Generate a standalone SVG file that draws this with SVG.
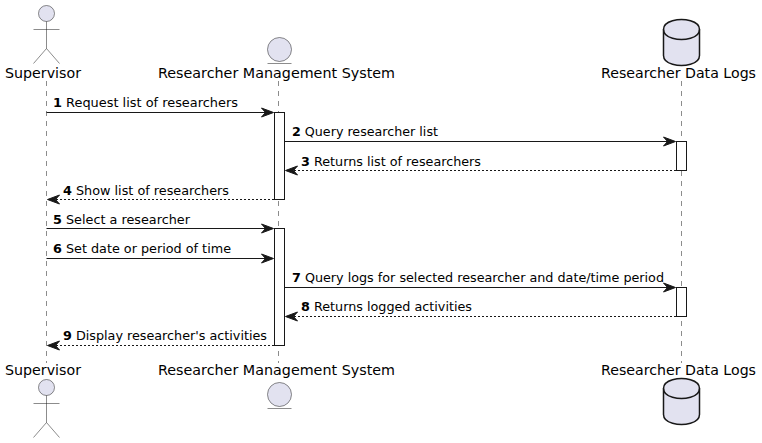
<svg xmlns="http://www.w3.org/2000/svg" width="762" height="443" viewBox="0 0 762 443">
<style>
text{font-family:"DejaVu Sans",sans-serif;fill:#000;lengthAdjust:spacingAndGlyphs}
.p{font-size:14px}
.m{font-size:13px}
.n{font-weight:bold}
.life{stroke:#181818;stroke-width:.5;stroke-dasharray:5,5;fill:none}
.act{fill:#fff;stroke:#181818;stroke-width:1}
.shape{fill:#E2E2F0;stroke:#181818;stroke-width:.5}
.db{fill:#E2E2F0;stroke:#181818;stroke-width:1.5}
.line{stroke:#181818;stroke-width:1;fill:none}
.dash{stroke:#181818;stroke-width:1;stroke-dasharray:2,2;fill:none}
.head{fill:#181818;stroke:#181818;stroke-width:1}
</style>
<defs>
<g id="actor"><circle class="shape" cx="46.5" cy="13.5" r="8"/><path class="shape" style="fill:none" d="M46.5 21.5V48.5M33.5 29.5H59.5M46.5 48.5L33.5 63.5M46.5 48.5L59.5 63.5"/></g>
<g id="entity"><circle class="shape" cx="279.5" cy="49.5" r="12"/><path class="shape" d="M267.5 63.5H291.5"/></g>
<g id="database"><path class="db" d="M663.5 29.5C663.5 19.5 681.5 19.5 681.5 19.5C681.5 19.5 699.5 19.5 699.5 29.5V55.5C699.5 65.5 681.5 65.5 681.5 65.5C681.5 65.5 663.5 65.5 663.5 55.5Z"/><path class="db" style="fill:none" d="M663.5 29.5C663.5 39.5 681.5 39.5 681.5 39.5C681.5 39.5 699.5 39.5 699.5 29.5"/></g>
<path id="ar" class="head" d="M0 0L-12 -4.5L-8 0L-12 4.5Z"/>
<path id="al" class="head" d="M0 0L12 -4.5L8 0L12 4.5Z"/>
</defs>
<g id="lifelines">
<path class="life" d="M46.5 81V363"/>
<path class="life" d="M278.5 81V363"/>
<path class="life" d="M681.5 81V363"/>
</g>
<g id="activations">
<rect class="act" x="274.5" y="112.5" width="10" height="87"/>
<rect class="act" x="274.5" y="228.5" width="10" height="117"/>
<rect class="act" x="676.5" y="141.5" width="10" height="29"/>
<rect class="act" x="676.5" y="287.5" width="10" height="29"/>
</g>
<g id="supervisor-top"><use href="#actor"/><text class="p" x="5" y="78" textLength="76" lengthAdjust="spacingAndGlyphs">Supervisor</text></g>
<g id="system-top"><use href="#entity"/><text class="p" x="158" y="78" textLength="237" lengthAdjust="spacingAndGlyphs">Researcher Management System</text></g>
<g id="logs-top"><use href="#database"/><text class="p" x="601" y="78" textLength="155" lengthAdjust="spacingAndGlyphs">Researcher Data Logs</text></g>
<g id="supervisor-bottom"><use href="#actor" y="374"/><text class="p" x="5" y="375" textLength="76" lengthAdjust="spacingAndGlyphs">Supervisor</text></g>
<g id="system-bottom"><use href="#entity" y="345"/><text class="p" x="158" y="375" textLength="237" lengthAdjust="spacingAndGlyphs">Researcher Management System</text></g>
<g id="logs-bottom"><use href="#database" y="359"/><text class="p" x="601" y="375" textLength="155" lengthAdjust="spacingAndGlyphs">Researcher Data Logs</text></g>
<g id="connectors">
<path class="line" d="M46.5 112.5H268"/><use href="#ar" x="273.5" y="112.5"/>
<path class="line" d="M284.5 141.5H670"/><use href="#ar" x="675.5" y="141.5"/>
<path class="dash" d="M290 170.5H676"/><use href="#al" x="285.5" y="170.5"/>
<path class="dash" d="M52 199.5H274"/><use href="#al" x="47.5" y="199.5"/>
<path class="line" d="M46.5 228.5H268"/><use href="#ar" x="273.5" y="228.5"/>
<path class="line" d="M46.5 258.5H268"/><use href="#ar" x="273.5" y="258.5"/>
<path class="line" d="M284.5 287.5H670"/><use href="#ar" x="675.5" y="287.5"/>
<path class="dash" d="M290 316.5H676"/><use href="#al" x="285.5" y="316.5"/>
<path class="dash" d="M52 345.5H274"/><use href="#al" x="47.5" y="345.5"/>
</g>
<g id="labels">
<text class="m" x="53" y="107" textLength="185" lengthAdjust="spacingAndGlyphs"><tspan class="n">1</tspan> Request list of researchers</text>
<text class="m" x="292" y="136" textLength="146" lengthAdjust="spacingAndGlyphs"><tspan class="n">2</tspan> Query researcher list</text>
<text class="m" x="301" y="166" textLength="180" lengthAdjust="spacingAndGlyphs"><tspan class="n">3</tspan> Returns list of researchers</text>
<text class="m" x="63" y="195" textLength="166" lengthAdjust="spacingAndGlyphs"><tspan class="n">4</tspan> Show list of researchers</text>
<text class="m" x="53" y="224" textLength="137" lengthAdjust="spacingAndGlyphs"><tspan class="n">5</tspan> Select a researcher</text>
<text class="m" x="53" y="253" textLength="178" lengthAdjust="spacingAndGlyphs"><tspan class="n">6</tspan> Set date or period of time</text>
<text class="m" x="292" y="282" textLength="372" lengthAdjust="spacingAndGlyphs"><tspan class="n">7</tspan> Query logs for selected researcher and date/time period</text>
<text class="m" x="301" y="311" textLength="171" lengthAdjust="spacingAndGlyphs"><tspan class="n">8</tspan> Returns logged activities</text>
<text class="m" x="63" y="340" textLength="204" lengthAdjust="spacingAndGlyphs"><tspan class="n">9</tspan> Display researcher's activities</text>
</g>
</svg>
